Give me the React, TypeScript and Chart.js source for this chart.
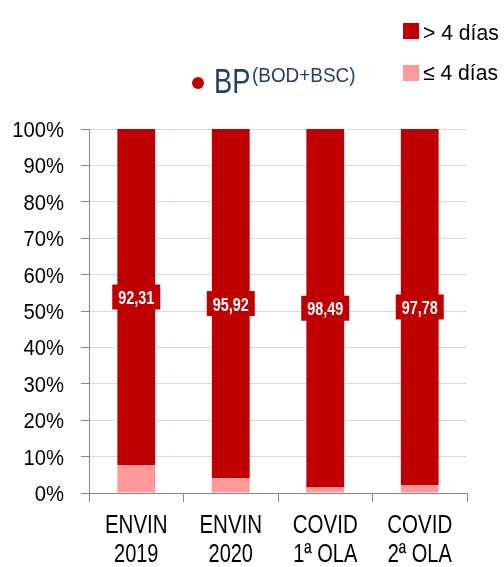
import React, { useEffect, useRef } from "react";
import { Chart, registerables } from "chart.js";

Chart.register(...registerables);

const categories: string[][] = [["ENVIN", "2019"], ["ENVIN", "2020"], ["COVID", "1ª OLA"], ["COVID", "2ª OLA"]];
const shortDays: number[] = [7.69, 4.08, 1.51, 2.22];
const longDays: number[] = [92.31, 95.92, 98.49, 97.78];
const longLabels: string[] = ["92,31", "95,92", "98,49", "97,78"];
const yTicks: number[] = [0, 10, 20, 30, 40, 50, 60, 70, 80, 90, 100];

const DARK = "#C00000";
const PINK = "#FF9999";
const FONT = "'Liberation Sans', Arial, sans-serif";

function drawScaled(ctx: CanvasRenderingContext2D, text: string, x: number, y: number, align: "left" | "right" | "center", sx: number) {
  ctx.save();
  ctx.translate(x, y);
  ctx.scale(sx, 1);
  ctx.textAlign = align;
  ctx.fillText(text, 0, 0);
  ctx.restore();
}

const decorPlugin = {
  id: "decor",
  afterDraw(chart: any) {
    const ctx: CanvasRenderingContext2D = chart.ctx;
    ctx.save();
    ctx.textBaseline = "alphabetic";
    // y tick labels
    const ys = chart.scales.y;
    ctx.fillStyle = "#000000";
    ctx.font = `22px ${FONT}`;
    yTicks.forEach((v) => {
      drawScaled(ctx, v + "%", 64, ys.getPixelForValue(v) + 8, "right", 0.92);
    });
    // x tick labels
    const xs = chart.scales.x;
    ctx.font = `25px ${FONT}`;
    categories.forEach((lines, i) => {
      const cx = xs.getPixelForValue(i);
      drawScaled(ctx, lines[0], cx, 533, "center", 0.82);
      drawScaled(ctx, lines[1], cx, 562, "center", 0.8);
    });
    // data labels on top series
    const meta = chart.getDatasetMeta(1);
    meta.data.forEach((bar: any, i: number) => {
      const cy = (bar.y + bar.base) / 2;
      const w = 48, h = 25;
      ctx.fillStyle = DARK;
      ctx.fillRect(bar.x - w / 2, cy - h / 2, w, h);
      ctx.fillStyle = "#FFFFFF";
      ctx.font = `bold 19px ${FONT}`;
      drawScaled(ctx, longLabels[i], bar.x, cy + 7, "center", 0.76);
    });
    // title
    ctx.fillStyle = DARK;
    ctx.beginPath();
    ctx.arc(198, 83, 6, 0, Math.PI * 2);
    ctx.fill();
    ctx.fillStyle = "#243F66";
    ctx.font = `35px ${FONT}`;
    drawScaled(ctx, "BP", 214, 93, "left", 0.78);
    ctx.font = `21px ${FONT}`;
    drawScaled(ctx, "(BOD+BSC)", 252, 82, "left", 0.9);
    // legend
    const items = [
      { label: "> 4 días", color: DARK, y: 23, base: 40 },
      { label: "≤ 4 días", color: PINK, y: 65, base: 80 },
    ];
    items.forEach((it) => {
      ctx.fillStyle = it.color;
      ctx.fillRect(403, it.y, 16, 16);
      ctx.fillStyle = "#000000";
      ctx.font = `22px ${FONT}`;
      drawScaled(ctx, it.label, 423, it.base, "left", 0.96);
    });
    ctx.restore();
  },
};

export default function App() {
  const ref = useRef<HTMLCanvasElement>(null);
  useEffect(() => {
    if (!ref.current) return;
    const chart = new Chart(ref.current, {
      type: "bar",
      data: {
        labels: categories,
        datasets: [
          { label: "≤ 4 días", data: shortDays, backgroundColor: PINK, categoryPercentage: 1, barPercentage: 0.4 },
          { label: "> 4 días", data: longDays, backgroundColor: DARK, categoryPercentage: 1, barPercentage: 0.4 },
        ],
      },
      options: {
        responsive: false,
        animation: false,
        layout: { padding: { top: 129, right: 37, left: 0, bottom: 0 } },
        plugins: { legend: { display: false }, tooltip: { enabled: false }, title: { display: false } },
        scales: {
          x: {
            stacked: true,
            offset: true,
            z: 1,
            grid: { offset: true, drawOnChartArea: false, drawTicks: true, tickLength: 9, color: "#868686" },
            border: { color: "#868686" },
            ticks: { display: false },
            afterFit: (s: any) => { s.height = 74; },
          },
          y: {
            stacked: true,
            min: 0,
            max: 100,
            afterBuildTicks: (s: any) => { s.ticks = yTicks.map((v) => ({ value: v })); },
            grid: {
              color: (c: any) => (c.tick && c.tick.value === 0 ? "rgba(0,0,0,0)" : "#D9D9D9"),
              tickColor: "#868686",
              tickLength: 8,
            },
            border: { color: "#868686" },
            ticks: { display: false },
            afterFit: (s: any) => { s.width = 89; },
          },
        },
      },
      plugins: [decorPlugin],
    });
    return () => chart.destroy();
  }, []);
  return (
    <div style={{ position: "fixed", left: 0, top: 0, width: 504, height: 567, background: "#fff" }}>
      <canvas ref={ref} width={504} height={567} style={{ display: "block" }} />
    </div>
  );
}
